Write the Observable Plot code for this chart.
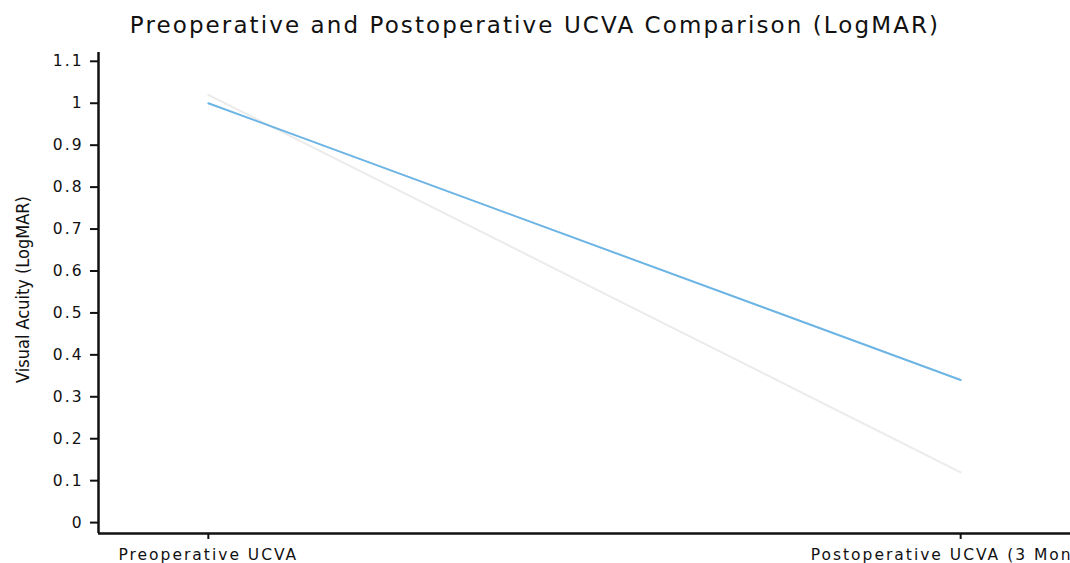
<!DOCTYPE html>
<html>
<head>
<meta charset="utf-8">
<script src="https://cdn.jsdelivr.net/npm/d3@7"></script>
<script src="https://cdn.jsdelivr.net/npm/@observablehq/plot@0.6"></script>
<style>
  html, body { margin: 0; padding: 0; background: #fff; overflow: hidden; }
  #title { height: 48px; line-height: 50px; text-align: center; font-family: "DejaVu Sans", sans-serif; font-size: 23px; letter-spacing: 2.1px; color: #111; white-space: nowrap; }
  #chart svg { display: block; }
  #chart g[aria-label="y-axis tick label"] text { letter-spacing: 2px; font-size: 15.5px; }
  #chart g[aria-label="x-axis tick label"] text { letter-spacing: 2px; font-size: 15.5px; }
</style>
</head>
<body>
<div id="title">Preoperative and Postoperative UCVA Comparison (LogMAR)</div>
<div id="chart"></div>
<script>
const categories = ["Preoperative UCVA", "Postoperative UCVA (3 Months)"];
const seriesNames = ["Mean", "Median"];
const meanValues = [1.0, 0.34];
const secondValues = [1.02, 0.12];
const yTicks = [0, 0.1, 0.2, 0.3, 0.4, 0.5, 0.6, 0.7, 0.8, 0.9, 1, 1.1];
const yDomain = [-0.026, 1.121];
const xPad = 0.146;

const rows = [];
categories.forEach((c, i) => {
  rows.push({series: seriesNames[1], i, value: secondValues[i]});
});
categories.forEach((c, i) => {
  rows.push({series: seriesNames[0], i, value: meanValues[i]});
});
const xDomain = [-xPad, categories.length - 1 + xPad];

const chart = Plot.plot({
  width: 1070,
  height: 515,
  marginTop: 4,
  marginBottom: 30,
  marginLeft: 98,
  marginRight: 0,
  style: {fontFamily: "DejaVu Sans, sans-serif", fontSize: "13px", color: "#111", background: "#fff"},
  x: {domain: xDomain, axis: null},
  y: {domain: yDomain, axis: null},
  marks: [
    Plot.axisY({ticks: yTicks, label: null, tickFormat: d => String(+d.toFixed(1)), tickSize: 8, tickPadding: 7, strokeWidth: 2, fontSize: 15.5}),
    Plot.axisX({ticks: [0, 1], label: null, tickFormat: i => categories[i], tickSize: 6, tickPadding: 9, strokeWidth: 2, fontSize: 15.5, textAnchor: "middle"}),
    Plot.ruleX([xDomain[0]], {stroke: "#111", strokeWidth: 2.5}),
    Plot.ruleY([yDomain[0]], {stroke: "#111", strokeWidth: 2.5}),
    Plot.line(rows.filter(d => d.series === seriesNames[1]), {x: "i", y: "value", stroke: "#ebebeb", strokeWidth: 2}),
    Plot.line(rows.filter(d => d.series === seriesNames[0]), {x: "i", y: "value", stroke: "#6cb4e4", strokeWidth: 2})
  ]
});
document.getElementById("chart").appendChild(chart);

// y-axis title
const svg = d3.select(chart);
svg.append("text")
  .attr("transform", `translate(22,${(4 + 485) / 2 - 3}) rotate(-90)`)
  .attr("text-anchor", "middle")
  .attr("dominant-baseline", "central")
  .attr("font-family", "DejaVu Sans Condensed, DejaVu Sans, sans-serif")
  .attr("font-stretch", "condensed")
  .attr("font-size", 18)
  .attr("fill", "#111")
  .text("Visual Acuity (LogMAR)");
</script>
</body>
</html>
